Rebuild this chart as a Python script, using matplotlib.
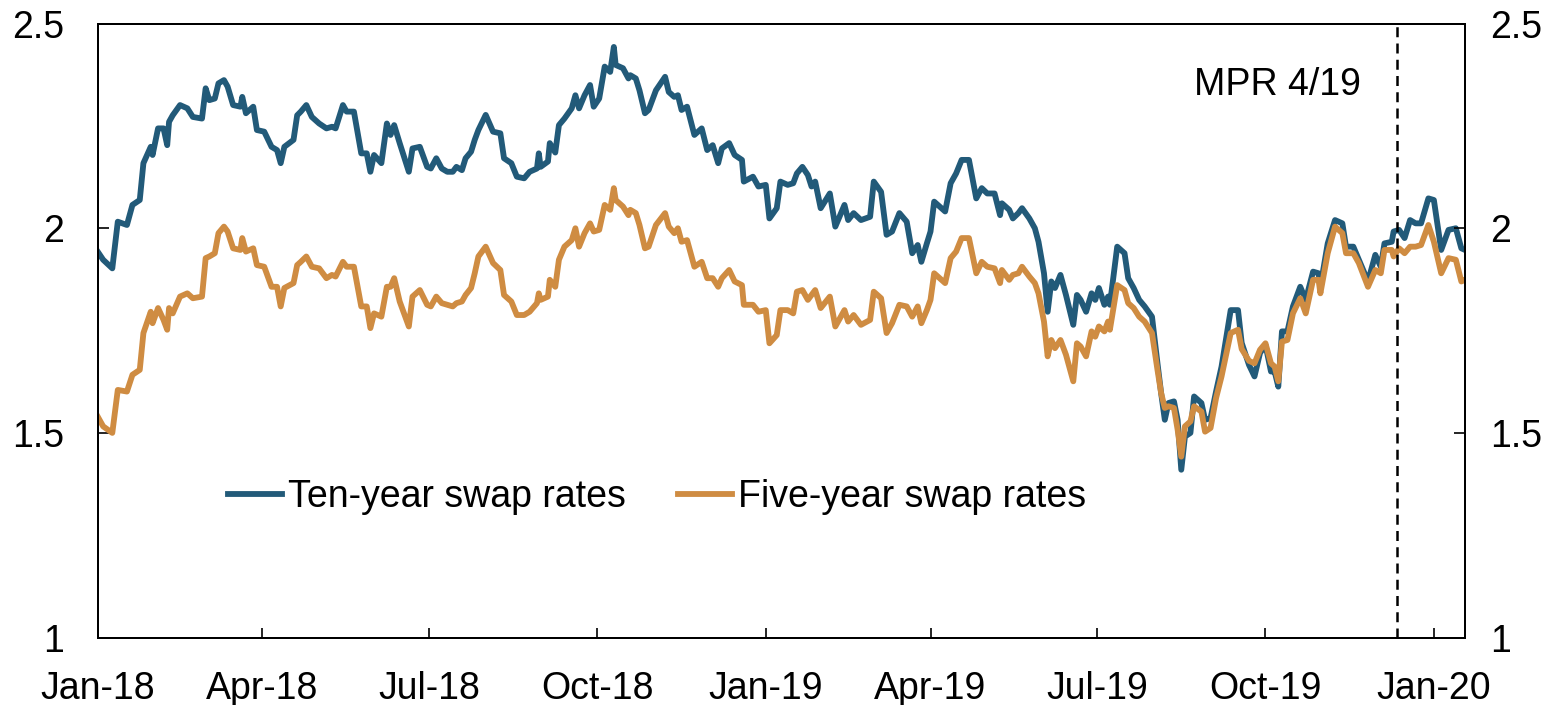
import numpy as np
import pandas as pd
import matplotlib
matplotlib.use("Agg")
import matplotlib.pyplot as plt
import matplotlib.dates as mdates
from matplotlib.ticker import FuncFormatter

plt.rcParams['font.family'] = ['Liberation Sans', 'DejaVu Sans']

# data, x = days since 1 Jan 2018
days = [0, 3, 8, 11, 16, 19, 23, 25, 29, 30, 33, 36, 38, 39, 41, 45, 49, 52, 57, 59,
        61, 64, 66, 69, 71, 74, 78, 79, 81, 85, 87, 91, 95, 98, 100, 102, 107, 109, 111, 114,
        117, 121, 125,
        128, 130, 134, 136, 140, 144, 147, 149, 151, 155, 158, 160, 162, 165, 170, 172, 176, 180, 182, 185,
        188, 191, 194, 196, 199, 201, 204, 206, 208, 212, 216, 220, 222, 226, 229, 233, 236, 240, 241, 242,
        246, 247, 250, 252,
        255, 259, 261, 263, 266, 269, 271, 274, 277, 280, 282, 283, 287, 290, 291, 294, 296, 299, 301, 305,
        310, 312, 315, 317, 319, 322, 326, 330, 333, 336, 339, 341, 345, 348, 352, 353, 358, 361, 365, 367,
        371, 373, 377,
        380, 382, 385, 388, 390, 392, 395, 400, 403, 408, 410, 413, 417, 422, 424, 428, 431, 434, 438, 442,
        445, 448, 450, 453, 455, 457, 460, 463, 466, 469, 472, 476, 480, 483, 486, 490, 493, 494, 498, 500,
        503,
        505, 509, 512, 514, 517, 519, 521, 523, 526, 529, 533, 535, 537, 540, 543, 545, 547, 550, 552, 553,
        557, 561, 563, 566, 569, 572, 576, 579, 581, 583, 585, 588, 590, 592, 594, 597, 599, 603, 605, 608,
        611, 614, 619, 623,
        625, 629, 632, 635, 638, 641, 643, 645, 647, 650, 653, 657, 660, 664, 667, 668, 672, 676, 680, 682,
        686, 689, 694, 698, 701, 703, 707, 708, 711, 714, 717, 720, 723, 727, 730, 734, 738, 742, 745, 747]

ten_year = [1.943, 1.923, 1.902, 2.016, 2.008, 2.057, 2.069, 2.159, 2.199, 2.179,
            2.244, 2.244, 2.203, 2.260, 2.276, 2.301, 2.293, 2.272, 2.268, 2.342,
            2.313, 2.317, 2.354, 2.362, 2.346, 2.301, 2.297, 2.321, 2.281, 2.297,
            2.240, 2.236, 2.199, 2.191, 2.159, 2.199, 2.216, 2.276, 2.285, 2.301,
            2.272, 2.256, 2.244,
            2.248, 2.244, 2.301, 2.285, 2.285, 2.183, 2.183, 2.138, 2.179, 2.159,
            2.256, 2.228, 2.252, 2.208, 2.138, 2.195, 2.199, 2.150, 2.146, 2.171,
            2.146, 2.138, 2.138, 2.150, 2.142, 2.171, 2.187, 2.216, 2.240, 2.277,
            2.236, 2.232, 2.171, 2.159, 2.126, 2.122, 2.138, 2.146, 2.183, 2.150,
            2.163, 2.208, 2.185, 2.252,
            2.268, 2.293, 2.325, 2.293, 2.325, 2.350, 2.297, 2.317, 2.395, 2.382,
            2.443, 2.399, 2.391, 2.366, 2.374, 2.366, 2.337, 2.281, 2.289, 2.337,
            2.370, 2.333, 2.321, 2.325, 2.289, 2.297, 2.228, 2.244, 2.191, 2.203,
            2.159, 2.195, 2.208, 2.179, 2.167, 2.114, 2.126, 2.102, 2.106, 2.024,
            2.049, 2.114, 2.106,
            2.110, 2.134, 2.150, 2.130, 2.102, 2.114, 2.049, 2.085, 2.004, 2.057,
            2.020, 2.037, 2.020, 2.028, 2.114, 2.089, 1.984, 1.992, 2.037, 2.016,
            1.939, 1.959, 1.918, 1.963, 1.992, 2.065, 2.053, 2.041, 2.110, 2.134,
            2.167, 2.167, 2.073, 2.098, 2.085, 2.085, 2.032, 2.061, 2.045, 2.024,
            2.037,
            2.049, 2.024, 2.000, 1.967, 1.890, 1.796, 1.870, 1.854, 1.886, 1.837,
            1.764, 1.837, 1.825, 1.796, 1.841, 1.825, 1.854, 1.813, 1.833, 1.813,
            1.955, 1.939, 1.878, 1.854, 1.825, 1.809, 1.784, 1.670, 1.597, 1.532,
            1.573, 1.577, 1.532, 1.410, 1.491, 1.500, 1.589, 1.573, 1.532, 1.536,
            1.601, 1.662, 1.800, 1.800,
            1.720, 1.666, 1.638, 1.695, 1.715, 1.650, 1.650, 1.613, 1.748, 1.748,
            1.809, 1.857, 1.825, 1.894, 1.890, 1.857, 1.963, 2.020, 2.012, 1.955,
            1.955, 1.923, 1.870, 1.935, 1.906, 1.963, 1.967, 1.992, 1.996, 1.976,
            2.020, 2.012, 2.012, 2.073, 2.069, 1.947, 1.996, 2.000, 1.951, 1.947]

five_year = [1.540, 1.516, 1.500, 1.605, 1.601, 1.642, 1.654, 1.744, 1.796, 1.768,
             1.805, 1.776, 1.752, 1.805, 1.792, 1.833, 1.841, 1.829, 1.833, 1.927,
             1.931, 1.939, 1.988, 2.004, 1.992, 1.951, 1.947, 1.976, 1.943, 1.951,
             1.910, 1.906, 1.857, 1.857, 1.809, 1.854, 1.866, 1.910, 1.918, 1.931,
             1.906, 1.902, 1.878,
             1.886, 1.882, 1.918, 1.906, 1.906, 1.809, 1.809, 1.756, 1.792, 1.784,
             1.857, 1.857, 1.878, 1.821, 1.760, 1.833, 1.849, 1.813, 1.809, 1.833,
             1.817, 1.813, 1.809, 1.817, 1.821, 1.837, 1.854, 1.890, 1.931, 1.955,
             1.915, 1.898, 1.837, 1.821, 1.788, 1.788, 1.796, 1.817, 1.841, 1.825,
             1.833, 1.874, 1.857, 1.923,
             1.955, 1.971, 2.000, 1.955, 1.988, 2.012, 1.992, 1.996, 2.057, 2.045,
             2.098, 2.069, 2.053, 2.032, 2.045, 2.037, 2.008, 1.951, 1.955, 2.008,
             2.037, 2.004, 1.988, 2.000, 1.967, 1.971, 1.906, 1.918, 1.878, 1.878,
             1.857, 1.878, 1.898, 1.870, 1.861, 1.813, 1.813, 1.796, 1.800, 1.719,
             1.739, 1.800, 1.800,
             1.792, 1.845, 1.849, 1.825, 1.837, 1.849, 1.805, 1.833, 1.760, 1.800,
             1.772, 1.788, 1.764, 1.776, 1.845, 1.829, 1.744, 1.768, 1.813, 1.809,
             1.784, 1.809, 1.768, 1.800, 1.825, 1.890, 1.878, 1.866, 1.927, 1.943,
             1.976, 1.976, 1.890, 1.918, 1.906, 1.902, 1.866, 1.898, 1.874, 1.886,
             1.890,
             1.906, 1.882, 1.866, 1.841, 1.772, 1.687, 1.727, 1.707, 1.727, 1.691,
             1.626, 1.719, 1.711, 1.687, 1.748, 1.735, 1.760, 1.748, 1.772, 1.752,
             1.861, 1.849, 1.817, 1.805, 1.784, 1.772, 1.744, 1.654, 1.597, 1.561,
             1.565, 1.561, 1.508, 1.442, 1.516, 1.528, 1.565, 1.552, 1.503, 1.512,
             1.585, 1.638, 1.744, 1.752,
             1.705, 1.676, 1.670, 1.703, 1.719, 1.670, 1.662, 1.626, 1.723, 1.727,
             1.792, 1.829, 1.792, 1.874, 1.874, 1.841, 1.939, 2.004, 1.988, 1.939,
             1.939, 1.915, 1.857, 1.898, 1.890, 1.947, 1.947, 1.931, 1.951, 1.939,
             1.955, 1.955, 1.959, 2.008, 1.967, 1.890, 1.927, 1.923, 1.870, 1.874]

start = pd.Timestamp("2018-01-01")
mpr_date = pd.Timestamp("2019-12-12")
x_end = pd.Timestamp("2020-01-18")
dates = start + pd.to_timedelta(days, unit="D")

blue = "#225a79"
orange = "#cf8c42"
fs = 27

fig = plt.figure(figsize=(15.6, 7.05), dpi=100)
ax = fig.add_axes([0.0626, 0.0957, 0.8765, 0.8708])

ax.plot(dates, ten_year, color=blue, lw=4.2, label="Ten-year swap rates", solid_joinstyle="round")
ax.plot(dates, five_year, color=orange, lw=4.2, label="Five-year swap rates", solid_joinstyle="round")
ax.axvline(mpr_date, color="black", lw=1.8, ls=(0, (4, 2.5)))
ax.text(pd.Timestamp("2019-11-22"), 2.35, "MPR 4/19", fontsize=fs, ha="right", va="center")

ax.set_xlim(start, x_end)
ax.set_ylim(1, 2.5)
ax.set_yticks([1, 1.5, 2, 2.5])
fmt = FuncFormatter(lambda v, p: "%g" % v)
ax.yaxis.set_major_formatter(fmt)
ax.xaxis.set_major_locator(mdates.MonthLocator(bymonth=[1, 4, 7, 10]))
ax.xaxis.set_major_formatter(mdates.DateFormatter("%b-%y"))
ax.tick_params(axis="x", direction="in", length=7, width=1.2, labelsize=fs, pad=24)
ax.tick_params(axis="y", direction="in", length=8, width=1.2, labelsize=fs, pad=24)

ax2 = ax.twinx()
ax2.set_ylim(1, 2.5)
ax2.set_yticks([1, 1.5, 2, 2.5])
ax2.yaxis.set_major_formatter(fmt)
ax2.tick_params(axis="y", direction="in", length=8, width=1.2, labelsize=fs, pad=18)

for a in (ax, ax2):
    for s in a.spines.values():
        s.set_linewidth(1.4)

ax.legend(loc="center left", bbox_to_anchor=(0.095, 0.229), ncol=2, frameon=False,
          fontsize=fs, handlelength=1.45, handletextpad=0.15, columnspacing=1.4,
          borderpad=0, borderaxespad=0)

fig.savefig("out.png", dpi=100)
